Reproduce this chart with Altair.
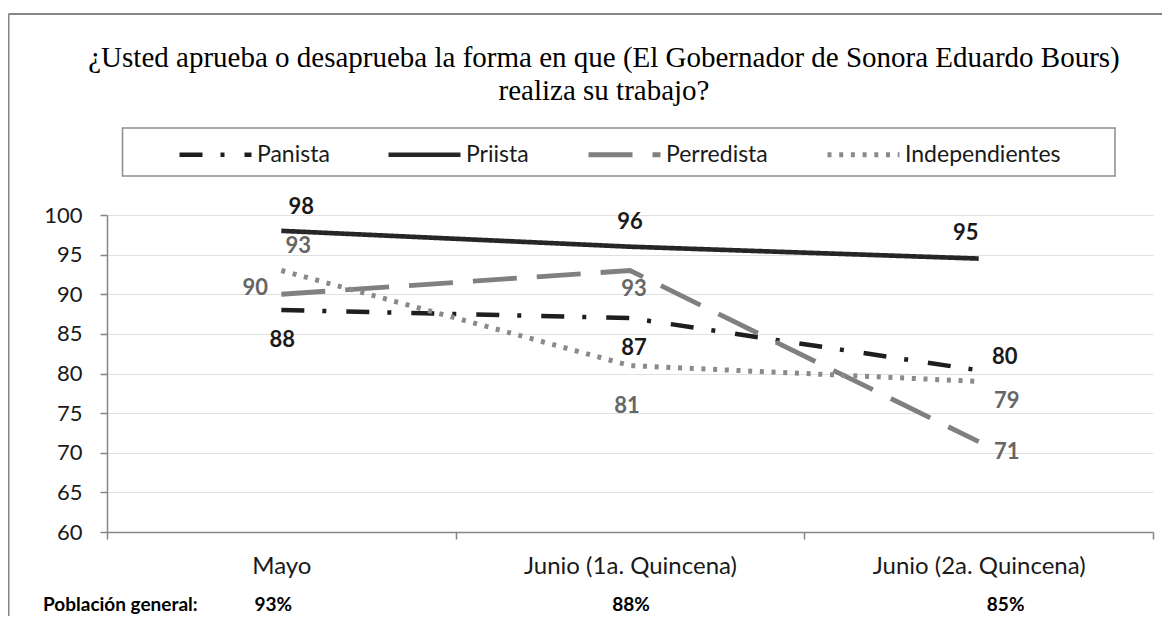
import altair as alt
import pandas as pd

# ---------------- data ----------------
categories = ["Mayo", "Junio (1a. Quincena)", "Junio (2a. Quincena)"]
series = ["Panista", "Priista", "Perredista", "Independientes"]

panista = [88, 87, 80.4]
priista = [98, 96, 94.5]
perredista = [90, 93, 71.4]
independientes = [93, 81, 79]

panista_labels = ["88", "87", "80"]
priista_labels = ["98", "96", "95"]
perredista_labels = ["90", "93", "71"]
independientes_labels = ["93", "81", "79"]

poblacion = ["93%", "88%", "85%"]
poblacion_title = "Población general:"
title_lines = [
    "¿Usted aprueba o desaprueba la forma en que (El Gobernador de Sonora Eduardo Bours)",
    "realiza su trabajo?",
]
y_ticks = [60, 65, 70, 75, 80, 85, 90, 95, 100]

values = {"Panista": panista, "Priista": priista,
          "Perredista": perredista, "Independientes": independientes}
labels = {"Panista": panista_labels, "Priista": priista_labels,
          "Perredista": perredista_labels, "Independientes": independientes_labels}

rows = []
for s in series:
    for i, c in enumerate(categories):
        rows.append({"serie": s, "mes": c, "valor": values[s][i],
                     "etiqueta": labels[s][i], "idx": i})
df = pd.DataFrame(rows)
pob_df = pd.DataFrame({"mes": categories, "pob": poblacion, "idx": [0, 1, 2]})
one = pd.DataFrame({"k": [0]})

# ---------------- styles ----------------
W, H = 1046, 317
FONT = "Lato"
AXIS_GRAY = "#868686"
line_colors = ["#1e1e1e", "#262626", "#808080", "#8a8a8a"]
dashes = [[23, 18, 4, 20], [1, 0], [44, 20], [4, 7.7]]
widths = [4.5, 5, 4.5, 4]
label_colors = {"Panista": "#1a1a1a", "Priista": "#1a1a1a",
                "Perredista": "#666666", "Independientes": "#666666"}
label_offsets = {
    "Priista": [(20, -24), (0, -25), (-13, -26)],
    "Panista": [(1, 30), (4, 30), (26, -13)],
    "Perredista": [(-26, -6), (4, 19), (28, 10)],
    "Independientes": [(17, -24), (-3, 40), (28, 20)],
}
pob_dx = [-8, 1, 27]

x_enc = alt.X(
    "mes:N", sort=categories,
    scale=alt.Scale(type="band", domain=categories, paddingInner=0, paddingOuter=0),
    axis=alt.Axis(title=None, labelAngle=0, domainColor=AXIS_GRAY, domainWidth=1.5,
                  tickColor=AXIS_GRAY, tickWidth=1.5, tickSize=7, tickBand="extent",
                  labelFont=FONT, labelFontSize=24, labelColor="#1a1a1a",
                  labelPadding=15, labelLimit=500, grid=False),
)
y_enc = alt.Y(
    "valor:Q",
    scale=alt.Scale(domain=[60, 100], nice=False, zero=False),
    axis=alt.Axis(title=None, values=y_ticks, grid=True, gridColor="#e0e0e0",
                  gridWidth=1, domainColor=AXIS_GRAY, domainWidth=1.5,
                  tickColor=AXIS_GRAY, tickWidth=1.5, tickSize=7,
                  labelFont=FONT, labelFontSize=22, labelColor="#1a1a1a",
                  labelPadding=18),
)

legend = alt.Legend(
    title=None, orient="none", legendX=70, legendY=-99, direction="horizontal",
    columns=4, symbolType="stroke", symbolSize=5184, labelFont=FONT,
    labelFontSize=23, labelColor="#1a1a1a", labelOffset=3, columnPadding=49,
    padding=0, labelLimit=400,
)

border_top = alt.Chart(one).mark_rule(color=AXIS_GRAY, strokeWidth=2).encode(
    x=alt.value(-98.5), x2=alt.value(1100), y=alt.value(-201))
border_left = alt.Chart(one).mark_rule(color=AXIS_GRAY, strokeWidth=2).encode(
    x=alt.value(-98.5), y=alt.value(-201), y2=alt.value(500))

legend_box = alt.Chart(one).mark_rect(fillOpacity=0, stroke="#8c8c8c", strokeWidth=1.5).encode(
    x=alt.value(15.5), x2=alt.value(1008), y=alt.value(-87), y2=alt.value(-39))

title = alt.Chart(one).mark_text(
    lineBreak="\n", lineHeight=33, font="Liberation Serif", fontSize=29,
    align="center", baseline="alphabetic", color="#000000").encode(
    x=alt.value(497), y=alt.value(-148), text=alt.value("\n".join(title_lines)))

lines = alt.Chart(df).mark_line(strokeCap="butt").encode(
    x=x_enc, y=y_enc,
    color=alt.Color("serie:N", scale=alt.Scale(domain=series, range=line_colors), legend=legend),
    strokeDash=alt.StrokeDash("serie:N", scale=alt.Scale(domain=series, range=dashes), legend=legend),
    strokeWidth=alt.StrokeWidth("serie:N", scale=alt.Scale(domain=series, range=widths), legend=legend),
)

label_layers = []
for s in series:
    for i in range(len(categories)):
        dx, dy = label_offsets[s][i]
        label_layers.append(
            alt.Chart(df).transform_filter(
                (alt.datum.serie == s) & (alt.datum.idx == i)
            ).mark_text(dx=dx, dy=dy, font=FONT, fontSize=22, fontWeight="bold",
                        color=label_colors[s], align="center", baseline="middle"
            ).encode(x=x_enc, y=y_enc, text="etiqueta:N")
        )

pob_layers = []
for i in range(len(categories)):
    pob_layers.append(
        alt.Chart(pob_df).transform_filter(alt.datum.idx == i).mark_text(
            dx=pob_dx[i], font=FONT, fontSize=19, fontWeight="bold", color="#000000",
            align="center", baseline="middle").encode(
            x=x_enc, y=alt.value(390), text="pob:N")
    )

pob_head = alt.Chart(one).mark_text(
    font=FONT, fontSize=19, fontWeight="bold", color="#000000",
    align="left", baseline="middle").encode(
    x=alt.value(-64), y=alt.value(390), text=alt.value(poblacion_title))

chart = alt.layer(border_top, border_left, legend_box, title, lines,
                  *label_layers, *pob_layers, pob_head).properties(
    width=W, height=H,
    padding={"left": 99, "top": 207, "right": 9, "bottom": 84},
    autosize=alt.AutoSizeParams(type="none"),
    background="white",
).configure_view(strokeWidth=0)

chart.save("out.html", embed_options={"renderer": "svg", "actions": False})
